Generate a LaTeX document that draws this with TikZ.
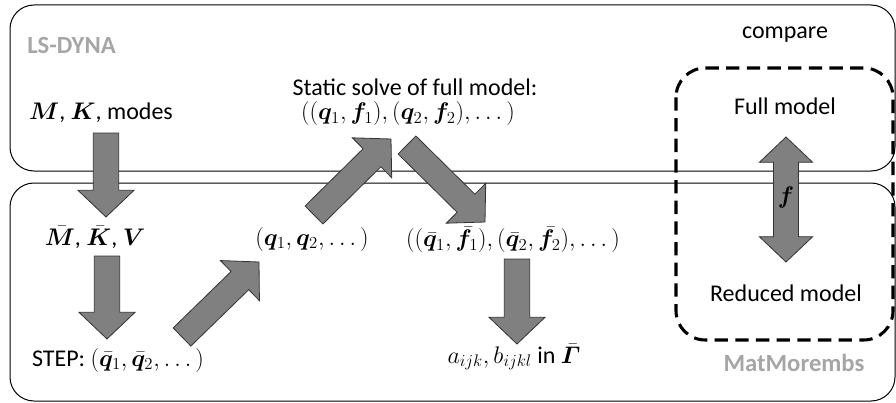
\RequirePackage{fix-cm}
\documentclass[tikz,border=0pt]{standalone}
\usepackage{amsmath}
\usepackage{bm}
\usepackage{fontspec}
\setmainfont{Carlito}
\usepackage{tikz}
\usetikzlibrary{calc}

\definecolor{arrowgray}{gray}{0.5}
\definecolor{labelgray}{gray}{0.65}

\tikzset{
  panel/.style={draw=black, line width=0.75pt, rounded corners=18pt},
  cmpbox/.style={draw=black, line width=2.3pt, dash pattern=on 10pt off 5.5pt, rounded corners=22pt},
  txt/.style={inner sep=0pt, font=\fontsize{18}{21}\selectfont},
  tool/.style={inner sep=0pt, text=labelgray, font=\fontsize{18.5}{21}\selectfont\bfseries},
  blockarrow/.style={draw=black!80, fill=arrowgray, line width=0.6pt,
    to path={($(\tikztostart)!9.5pt!90:(\tikztotarget)$)
      -- ($($(\tikztotarget)!20pt!(\tikztostart)$)!9.5pt!90:(\tikztotarget)$)
      -- ($($(\tikztotarget)!20pt!(\tikztostart)$)!21pt!90:(\tikztotarget)$)
      -- (\tikztotarget)
      -- ($($(\tikztotarget)!20pt!(\tikztostart)$)!21pt!-90:(\tikztotarget)$)
      -- ($($(\tikztotarget)!20pt!(\tikztostart)$)!9.5pt!-90:(\tikztotarget)$)
      -- ($(\tikztostart)!9.5pt!-90:(\tikztotarget)$) -- cycle}},
  bothway/.style={draw=black!80, fill=arrowgray, line width=0.6pt,
    to path={(\tikztostart)
      -- ($($(\tikztostart)!19pt!(\tikztotarget)$)!20pt!90:(\tikztotarget)$)
      -- ($($(\tikztostart)!19pt!(\tikztotarget)$)!9.4pt!90:(\tikztotarget)$)
      -- ($($(\tikztotarget)!19pt!(\tikztostart)$)!9.4pt!90:(\tikztotarget)$)
      -- ($($(\tikztotarget)!19pt!(\tikztostart)$)!20pt!90:(\tikztotarget)$)
      -- (\tikztotarget)
      -- ($($(\tikztotarget)!19pt!(\tikztostart)$)!20pt!-90:(\tikztotarget)$)
      -- ($($(\tikztotarget)!19pt!(\tikztostart)$)!9.4pt!-90:(\tikztotarget)$)
      -- ($($(\tikztostart)!19pt!(\tikztotarget)$)!9.4pt!-90:(\tikztotarget)$)
      -- ($($(\tikztostart)!19pt!(\tikztotarget)$)!20pt!-90:(\tikztotarget)$) -- cycle}},
}

\begin{document}
\begin{tikzpicture}[x=0.75pt,y=-0.75pt]
\useasboundingbox (0,0) rectangle (896,403);

% the two tools
\draw[panel] (10,5) rectangle (895,171);
\draw[panel] (10,183) rectangle (895,401);
\node[tool,anchor=west] (lsdyna) at (27,45) {LS-DYNA};
\node[tool] (matmor) at (794,363) {MatMorembs};

% comparison
\draw[cmpbox] (676,68) rectangle (893,340);
\node[txt] (compare) at (785,35) {compare};
\node[txt] (fullmod) at (785,106) {Full model};
\node[txt] (redmod) at (786,293) {Reduced model};

% data
\node[txt] (mk) at (101,113) {$\bm{M}$, $\bm{K}$, modes};
\node[txt] (solve) at (415,87) {Static solve of full model:};
\node[txt] (fullpairs) at (408,114) {$((\bm{q}_1,\bm{f}_1),(\bm{q}_2,\bm{f}_2),\dots)$};
\node[txt] (redmat) at (95,237) {$\bar{\bm{M}}$, $\bar{\bm{K}}$, $\bm{V}$};
\node[txt] (qs) at (312,239) {$(\bm{q}_1,\bm{q}_2,\dots)$};
\node[txt] (redpairs) at (513,240) {$((\bar{\bm{q}}_1,\bar{\bm{f}}_1),(\bar{\bm{q}}_2,\bar{\bm{f}}_2),\dots)$};
\node[txt] (step) at (118,360) {STEP: $(\bar{\bm{q}}_1,\bar{\bm{q}}_2,\dots)$};
\node[txt] (coeffs) at (514,357) {$a_{ijk},b_{ijkl}$ in $\bar{\bm{\varGamma}}$};

% arrow ends
\coordinate (mk-out) at (106,133);
\coordinate (redmat-in) at (106,217);
\coordinate (redmat-out) at (107,256);
\coordinate (step-in) at (107,339);
\coordinate (step-out) at (182,337);
\coordinate (qs-in) at (259,262);
\coordinate (qs-out) at (314,215);
\coordinate (solve-in) at (391,139);
\coordinate (solve-out) at (407,145);
\coordinate (redpairs-in) at (485,222);
\coordinate (redpairs-out) at (517,259);
\coordinate (coeffs-in) at (517,344);
\coordinate (fullmod-end) at (786,137);
\coordinate (redmod-end) at (786,262);

\path[blockarrow] (mk-out) to (redmat-in);
\path[blockarrow] (redmat-out) to (step-in);
\path[blockarrow] (step-out) to (qs-in);
\path[blockarrow] (qs-out) to (solve-in);
\path[blockarrow] (solve-out) to (redpairs-in);
\path[blockarrow] (redpairs-out) to (coeffs-in);
\path[bothway] (fullmod-end) to (redmod-end);
\node[txt] (flabel) at (786,197) {$\bm{f}$};
\end{tikzpicture}
\end{document}
